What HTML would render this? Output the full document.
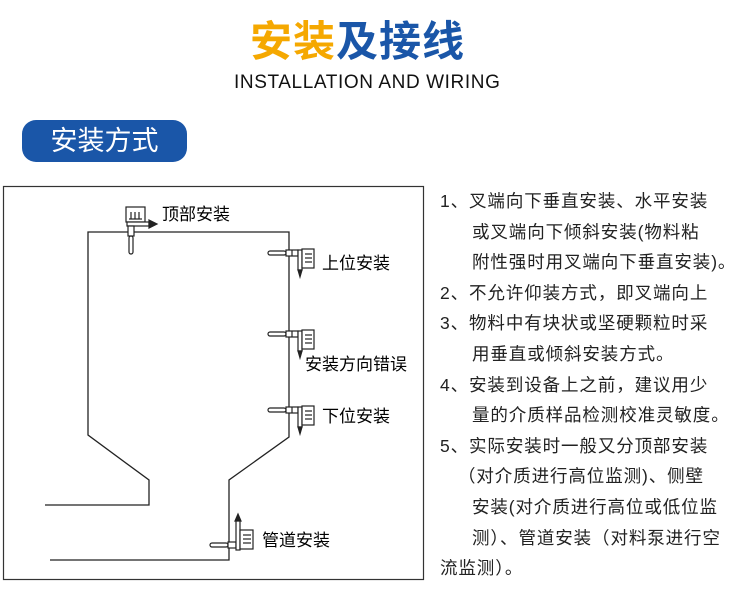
<!DOCTYPE html><html><head><meta charset="utf-8"><style>
body{margin:0;width:750px;height:606px;background:#fff;position:relative;overflow:hidden;font-family:"Liberation Sans","Noto Sans CJK SC",sans-serif}
.a{position:absolute;white-space:nowrap}
.t{font-size:17.5px;color:#222;line-height:30.6px;letter-spacing:0.9px}
</style></head><body>
<div class="a" style="left:250px;top:14px;font-size:42px;font-weight:bold;letter-spacing:1px;line-height:56px"><span style="color:#f5a800">安装</span><span style="color:#1a56a8">及接线</span></div>
<div class="a" style="left:234px;top:72px;font-size:19px;color:#111;letter-spacing:0.6px">INSTALLATION AND WIRING</div>
<div class="a" style="left:22px;top:120px;width:165px;height:42px;background:#1a56a8;border-radius:14px;color:#fff;font-size:27px;line-height:42px;text-align:center">安装方式</div>
<svg class="a" style="left:0;top:0" width="750" height="606">
<defs><g id="s" stroke="#222" fill="#fff" stroke-width="1.2">
<rect x="0" y="-2" width="18" height="4" rx="2"/><rect x="18" y="-3" width="12" height="6"/><line x1="24" y1="-3" x2="24" y2="3"/>
<rect x="30" y="-3" width="4" height="20"/><path d="M30 17 L34 17 L32 24 Z" fill="#222"/>
<rect x="34" y="-4" width="12" height="19"/><line x1="37" y1="1" x2="44" y2="1"/><line x1="37" y1="5" x2="44" y2="5"/><line x1="37" y1="9" x2="44" y2="9"/></g></defs>
<rect x="3.5" y="186.5" width="420" height="393" fill="none" stroke="#333" stroke-width="1.2"/>
<path d="M45 505 H149 V480 L88 435 V232 H289 V437 L229 480 V560 H50" fill="none" stroke="#222" stroke-width="1.3"/>
<use href="#s" x="268" y="253"/><use href="#s" x="268" y="334"/><use href="#s" x="268" y="410"/>
<g stroke="#222" fill="#fff" stroke-width="1.2">
<rect x="126" y="207" width="19" height="15"/><line x1="131" y1="212" x2="131" y2="219"/><line x1="135" y1="212" x2="135" y2="219"/><line x1="139" y1="212" x2="139" y2="219"/><line x1="129" y1="219" x2="142" y2="219"/>
<rect x="127" y="222" width="22" height="4"/><path d="M149 220 L157 224 L149 228 Z" fill="#222"/>
<rect x="128" y="226" width="6" height="10"/><rect x="129" y="236" width="4" height="18" rx="2"/>
<rect x="210" y="543" width="18" height="4" rx="2"/><rect x="228" y="542" width="8" height="6"/>
<rect x="236" y="520" width="4" height="30"/><path d="M235 521 L241 521 L238 514 Z" fill="#222"/>
<rect x="240" y="530" width="13" height="19"/><line x1="243" y1="535" x2="251" y2="535"/><line x1="243" y1="539" x2="251" y2="539"/><line x1="243" y1="543" x2="251" y2="543"/>
</g>
</svg>
<div class="a" style="left:162px;top:200px;font-size:17px">顶部安装</div>
<div class="a" style="left:322px;top:249px;font-size:17px">上位安装</div>
<div class="a" style="left:305px;top:350px;font-size:17px">安装方向错误</div>
<div class="a" style="left:322px;top:402px;font-size:17px">下位安装</div>
<div class="a" style="left:262px;top:526px;font-size:17px">管道安装</div>
<div class="a t" style="left:440px;top:186px">1、叉端向下垂直安装、水平安装<br><span style="padding-left:32px">或叉端向下倾斜安装(物料粘</span><br><span style="padding-left:32px">附性强时用叉端向下垂直安装)。</span><br>2、不允许仰装方式，即叉端向上<br>3、物料中有块状或坚硬颗粒时采<br><span style="padding-left:32px">用垂直或倾斜安装方式。</span><br>4、安装到设备上之前，建议用少<br><span style="padding-left:32px">量的介质样品检测校准灵敏度。</span><br>5、实际安装时一般又分顶部安装<br><span style="padding-left:18px">（对介质进行高位监测)、侧壁</span><br><span style="padding-left:32px">安装(对介质进行高位或低位监</span><br><span style="padding-left:32px">测）、管道安装（对料泵进行空</span><br>流监测）。</div>
</body></html>
